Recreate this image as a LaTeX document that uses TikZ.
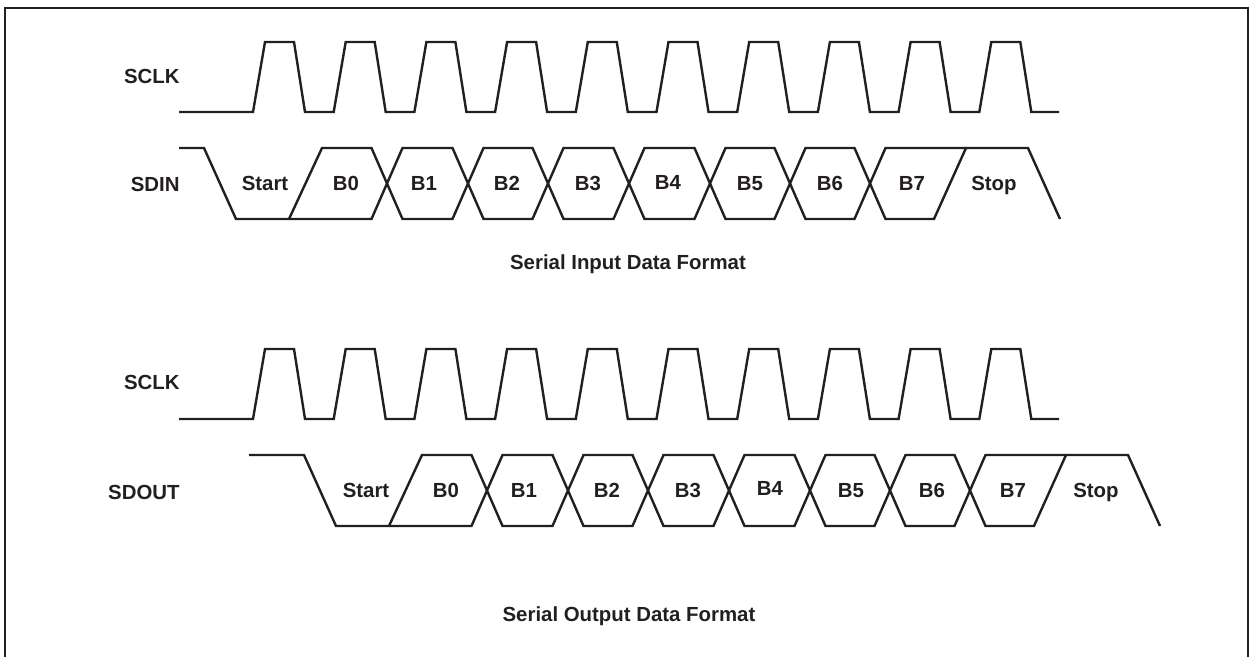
\documentclass[tikz,border=0pt]{standalone}
\usepackage{fontspec}
\setmainfont{Liberation Sans}
\definecolor{ink}{RGB}{35,31,32}
\newcommand\sclkwave[2]{% #1 low y, #2 high y
  \draw[wave] (179,#1)
    \foreach \k in {0,...,9}{ -- ({253+80.7*\k},#1) -- ({265+80.7*\k},#2) -- ({294+80.7*\k},#2) -- ({305+80.7*\k},#1) }
    -- (1059,#1);}
\newcommand\datawave[4]{% #1 shift, #2 start x (unshifted frame), #3 high y, #4 low y
  \begin{scope}[shift={(#1,0)}]
    \draw[wave] (289,#4) -- (322,#3) -- (371.5,#3) -- (402.5,#4) -- (452.5,#4) -- (483.5,#3)
      -- (532.5,#3) -- (563.5,#4) -- (613.5,#4) -- (644.5,#3) -- (694.5,#3) -- (725.5,#4)
      -- (774.5,#4) -- (805.5,#3) -- (854.5,#3) -- (885.5,#4) -- (934,#4) -- (966,#3)
      -- (1028,#3) -- (1060,#4);
    \draw[wave] (#2,#3) -- (204,#3) -- (236,#4) -- (371.5,#4) -- (402.5,#3) -- (452.5,#3)
      -- (483.5,#4) -- (532.5,#4) -- (563.5,#3) -- (613.5,#3) -- (644.5,#4) -- (694.5,#4)
      -- (725.5,#3) -- (774.5,#3) -- (805.5,#4) -- (854.5,#4) -- (885.5,#3) -- (966,#3);
  \end{scope}}
\begin{document}
\begin{tikzpicture}[x=0.5pt,y=-0.5pt,
  wave/.style={draw=ink,line width=1.2pt,line join=miter},
  lbl/.style={font=\fontsize{10.2}{12}\selectfont\bfseries,text=ink,inner sep=0pt,anchor=base},
  side/.style={lbl,anchor=base east}]
\useasboundingbox (0,0) rectangle (1250,657);
\draw[ink,line width=1.3pt] (5,657) -- (5,8) -- (1248,8) -- (1248,657);

% ---------- input ----------
\node[side] (sclkA) at (180,84) {SCLK};
\node[side] (sdin) at (180,192) {SDIN};
\sclkwave{112}{42}
\datawave{0}{179}{148}{219}
\node[lbl] (iStart) at (265,191) {Start};
\node[lbl] (iB0) at (346,191) {B0};
\node[lbl] (iB1) at (424,191) {B1};
\node[lbl] (iB2) at (507,191) {B2};
\node[lbl] (iB3) at (588,191) {B3};
\node[lbl] (iB4) at (668,190) {B4};
\node[lbl] (iB5) at (750,191) {B5};
\node[lbl] (iB6) at (830,191) {B6};
\node[lbl] (iB7) at (912,191) {B7};
\node[lbl] (iStop) at (994,191) {Stop};
\node[lbl] (titleIn) at (628,270) {Serial Input Data Format};

% ---------- output ----------
\node[side] (sclkB) at (180,390) {SCLK};
\node[side] (sdout) at (180,500) {SDOUT};
\sclkwave{419}{349}
\datawave{100}{149}{455}{526}
\node[lbl] (oStart) at (366,498) {Start};
\node[lbl] (oB0) at (446,498) {B0};
\node[lbl] (oB1) at (524,498) {B1};
\node[lbl] (oB2) at (607,498) {B2};
\node[lbl] (oB3) at (688,498) {B3};
\node[lbl] (oB4) at (770,496) {B4};
\node[lbl] (oB5) at (851,498) {B5};
\node[lbl] (oB6) at (932,498) {B6};
\node[lbl] (oB7) at (1013,498) {B7};
\node[lbl] (oStop) at (1096,498) {Stop};
\node[lbl] (titleOut) at (629,622) {Serial Output Data Format};
\end{tikzpicture}
\end{document}
